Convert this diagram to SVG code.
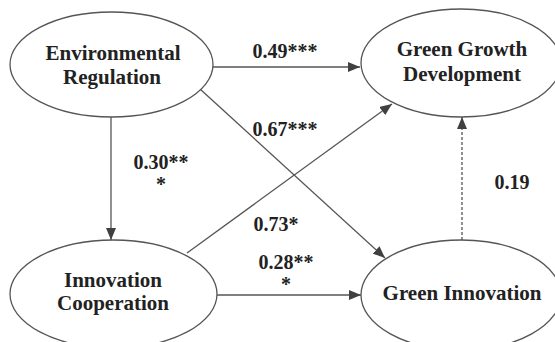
<svg xmlns="http://www.w3.org/2000/svg" width="555" height="342" viewBox="0 0 555 342">
<defs>
<marker id="ah" viewBox="0 0 12 10" refX="12" refY="5" markerWidth="12" markerHeight="10" markerUnits="userSpaceOnUse" orient="auto">
<path d="M0,0 L12,5 L0,10 Z" fill="#404040"/>
</marker>
</defs>
<rect width="555" height="342" fill="#fff"/>
<g id="connectors" stroke="#555" stroke-width="1.3" fill="none">
<line x1="213" y1="67" x2="360" y2="67" marker-end="url(#ah)"/>
<line x1="111" y1="117" x2="111" y2="240" marker-end="url(#ah)"/>
<line x1="200" y1="89" x2="385" y2="258" marker-end="url(#ah)"/>
<line x1="187" y1="253" x2="392" y2="104" marker-end="url(#ah)"/>
<line x1="217" y1="295" x2="361" y2="295" marker-end="url(#ah)"/>
<line stroke-dasharray="3,2" x1="462" y1="240" x2="462" y2="117" marker-end="url(#ah)"/>
</g>
<g id="labels" fill="#222" text-anchor="middle" font-weight="bold" font-size="20">
<text font-family="Liberation Serif" x="285" y="58">0.49***</text>
<text font-family="Liberation Serif" x="285" y="136">0.67***</text>
<text font-family="Liberation Serif" x="161" y="169">0.30**</text>
<text font-family="Liberation Serif" x="161" y="191">*</text>
<text font-family="Liberation Serif" x="512" y="189">0.19</text>
<text font-family="Liberation Serif" x="276" y="231">0.73*</text>
<text font-family="Liberation Serif" x="286" y="269">0.28**</text>
<text font-family="Liberation Serif" x="286" y="291">*</text>
</g>
<g id="env" fill="#222" text-anchor="middle" font-weight="bold" font-size="21">
<ellipse cx="111.5" cy="64.5" rx="101.5" ry="52.5" fill="#fff" stroke="#555" stroke-width="1.3"/>
<text font-family="Liberation Serif" x="113" y="60">Environmental</text>
<text font-family="Liberation Serif" x="112" y="84">Regulation</text>
</g>
<g id="ggd" fill="#222" text-anchor="middle" font-weight="bold" font-size="21">
<ellipse cx="461" cy="63" rx="100" ry="54" fill="#fff" stroke="#555" stroke-width="1.3"/>
<text font-family="Liberation Serif" x="462" y="56">Green Growth</text>
<text font-family="Liberation Serif" x="462" y="81">Development</text>
</g>
<g id="ic" fill="#222" text-anchor="middle" font-weight="bold" font-size="21">
<ellipse cx="113.5" cy="294" rx="103.5" ry="54" fill="#fff" stroke="#555" stroke-width="1.3"/>
<text font-family="Liberation Serif" x="113" y="287">Innovation</text>
<text font-family="Liberation Serif" x="113" y="310">Cooperation</text>
</g>
<g id="gi" fill="#222" text-anchor="middle" font-weight="bold" font-size="21">
<ellipse cx="461" cy="295" rx="100" ry="55" fill="#fff" stroke="#555" stroke-width="1.3"/>
<text font-family="Liberation Serif" x="462" y="300">Green Innovation</text>
</g>
</svg>
